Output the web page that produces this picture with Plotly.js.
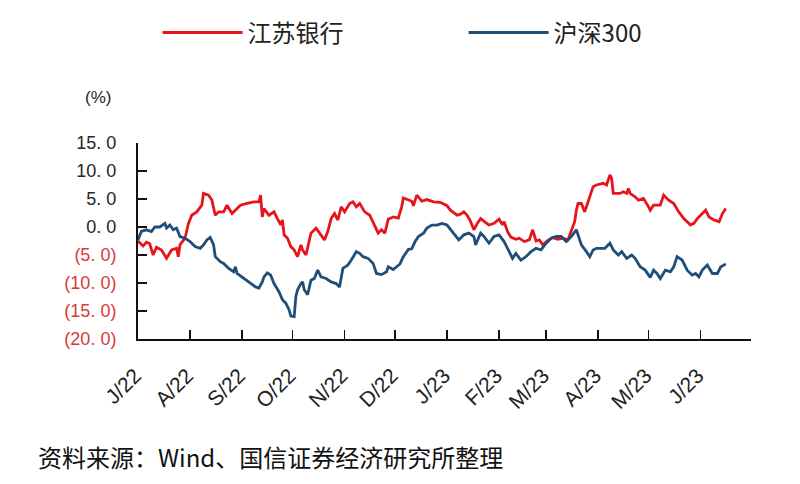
<!DOCTYPE html>
<html>
<head>
<meta charset="utf-8">
<script src="https://cdn.plot.ly/plotly-3.0.1.min.js"></script>
<style>
  html, body { margin: 0; padding: 0; background: #ffffff; }
  #chart { width: 800px; height: 484px; }
</style>
</head>
<body>
<div id="chart"></div>
<script>
// ---- Data (cumulative return, %) ----
const seriesNames = ["江苏银行", "沪深300"];

const bankDates = [
  "2022-07-01","2022-07-04","2022-07-06","2022-07-08","2022-07-10","2022-07-12","2022-07-15","2022-07-18",
  "2022-07-21","2022-07-24","2022-07-25","2022-07-26","2022-07-29","2022-07-31","2022-08-02","2022-08-05",
  "2022-08-08","2022-08-09","2022-08-12","2022-08-14","2022-08-16","2022-08-18","2022-08-21","2022-08-23",
  "2022-08-26","2022-08-29","2022-08-31","2022-09-04","2022-09-08","2022-09-11","2022-09-12","2022-09-13",
  "2022-09-14","2022-09-17","2022-09-20","2022-09-22","2022-09-24","2022-09-25","2022-09-26","2022-09-28",
  "2022-09-30","2022-10-02","2022-10-04","2022-10-06","2022-10-07","2022-10-09","2022-10-12","2022-10-15",
  "2022-10-17","2022-10-20","2022-10-22","2022-10-24","2022-10-26","2022-10-28","2022-10-30","2022-11-01",
  "2022-11-04","2022-11-06","2022-11-08","2022-11-10","2022-11-13","2022-11-16","2022-11-19","2022-11-21",
  "2022-11-23","2022-11-25","2022-11-27","2022-11-30","2022-12-03","2022-12-05","2022-12-06","2022-12-09",
  "2022-12-11","2022-12-12","2022-12-14","2022-12-17","2022-12-20","2022-12-24","2022-12-28","2023-01-01",
  "2023-01-03","2023-01-07","2023-01-09","2023-01-11","2023-01-13","2023-01-15","2023-01-17","2023-01-19",
  "2023-01-21","2023-01-24","2023-01-26","2023-01-29","2023-02-01","2023-02-03","2023-02-04","2023-02-06",
  "2023-02-08","2023-02-11","2023-02-13","2023-02-16","2023-02-19","2023-02-21","2023-02-23","2023-02-25",
  "2023-02-27","2023-03-02","2023-03-05","2023-03-08","2023-03-11","2023-03-14","2023-03-16","2023-03-18",
  "2023-03-19","2023-03-20","2023-03-22","2023-03-24","2023-03-26","2023-03-28","2023-03-29","2023-03-31",
  "2023-04-04","2023-04-06","2023-04-08","2023-04-09","2023-04-10","2023-04-14","2023-04-16","2023-04-18",
  "2023-04-19","2023-04-20","2023-04-23","2023-04-25","2023-04-28","2023-05-01","2023-05-02","2023-05-04",
  "2023-05-08","2023-05-10","2023-05-13","2023-05-16","2023-05-19","2023-05-22","2023-05-26","2023-05-28",
  "2023-05-30","2023-06-01","2023-06-04","2023-06-06","2023-06-09","2023-06-12","2023-06-14","2023-06-16"
];
const bankValues = [
  -2.5,-3.4,-2.7,-3.0,-5.0,-3.6,-4.1,-5.6,
  -4.1,-3.8,-5.3,-3.2,-2.0,0.6,2.1,2.7,
  3.9,6.0,5.7,4.8,2.1,2.7,2.7,3.9,
  2.4,3.3,3.9,4.2,4.5,4.5,5.7,1.8,
  3.3,2.1,2.7,1.5,0.4,1.25,-1.4,-2.0,
  -3.5,-4.1,-5.3,-3.2,-4.1,-5.0,-1.1,-0.2,
  -1.1,-2.3,-0.8,1.5,2.4,1.25,3.6,2.7,
  4.2,4.5,3.6,4.2,2.7,2.1,0.2,-1.1,
  -0.5,-1.1,1.4,1.8,1.6,3.6,5.2,4.9,
  4.6,3.8,5.7,4.6,4.9,4.5,4.4,3.8,
  3.0,2.1,2.3,2.7,2.1,1.0,-0.5,0.65,
  1.5,0.8,0.35,0.65,1.4,0.4,0.95,-0.8,
  -1.8,-2.2,-2.0,-2.6,-2.3,-0.5,-2.5,-2.3,
  -3.2,-2.4,-1.9,-2.2,-2.0,-2.3,-0.8,0.95,
  3.0,4.2,4.2,2.7,4.5,6.3,7.2,7.5,
  7.8,7.5,9.3,8.7,6.0,6.0,6.3,6.0,
  6.9,6.0,5.4,4.8,5.1,3.6,3.0,3.9,
  3.9,5.7,4.8,4.2,2.7,1.5,0.35,0.65,
  1.5,2.1,3.0,1.8,1.25,0.95,2.4,3.3
];

const indexDates = [
  "2022-07-01","2022-07-03","2022-07-06","2022-07-09","2022-07-11","2022-07-14","2022-07-17","2022-07-18",
  "2022-07-20","2022-07-22","2022-07-24","2022-07-26","2022-07-29","2022-08-01","2022-08-04","2022-08-07",
  "2022-08-09","2022-08-11","2022-08-13","2022-08-15","2022-08-16","2022-08-19","2022-08-21","2022-08-24",
  "2022-08-27","2022-08-28","2022-08-29","2022-09-02","2022-09-06","2022-09-09","2022-09-11","2022-09-13",
  "2022-09-14","2022-09-16","2022-09-18","2022-09-20","2022-09-23","2022-09-25","2022-09-27","2022-09-29",
  "2022-09-30","2022-10-02","2022-10-03","2022-10-04","2022-10-06","2022-10-07","2022-10-08","2022-10-10",
  "2022-10-12","2022-10-14","2022-10-16","2022-10-18","2022-10-21","2022-10-24","2022-10-27","2022-10-29",
  "2022-10-31","2022-11-03","2022-11-05","2022-11-08","2022-11-10","2022-11-12","2022-11-15","2022-11-18",
  "2022-11-20","2022-11-23","2022-11-26","2022-11-27","2022-11-30","2022-12-04","2022-12-06","2022-12-09",
  "2022-12-11","2022-12-13","2022-12-15","2022-12-18","2022-12-20","2022-12-23","2022-12-26","2022-12-29",
  "2023-01-01","2023-01-04","2023-01-08","2023-01-11","2023-01-14","2023-01-17","2023-01-18","2023-01-21",
  "2023-01-23","2023-01-26","2023-01-29","2023-02-01","2023-02-04","2023-02-07","2023-02-09","2023-02-11",
  "2023-02-14","2023-02-17","2023-02-20","2023-02-23","2023-02-26","2023-03-01","2023-03-04","2023-03-07",
  "2023-03-10","2023-03-13","2023-03-16","2023-03-19","2023-03-20","2023-03-22","2023-03-25","2023-03-27",
  "2023-03-29","2023-03-31","2023-04-05","2023-04-08","2023-04-10","2023-04-13","2023-04-15","2023-04-18",
  "2023-04-21","2023-04-23","2023-04-26","2023-04-29","2023-05-02","2023-05-04","2023-05-06","2023-05-08",
  "2023-05-11","2023-05-14","2023-05-16","2023-05-18","2023-05-21","2023-05-24","2023-05-27","2023-05-29",
  "2023-05-31","2023-06-02","2023-06-05","2023-06-08","2023-06-11","2023-06-13","2023-06-15","2023-06-16"
];
const indexValues = [
  -2.3,-0.8,-0.5,-0.8,0.0,0.0,0.65,-0.2,
  0.35,-0.5,-0.2,-1.7,-2.0,-2.6,-3.5,-3.8,
  -3.2,-2.3,-1.85,-3.2,-5.3,-6.2,-6.5,-7.4,
  -8.0,-7.1,-8.3,-9.2,-10.1,-10.7,-10.9,-9.8,
  -8.9,-8.2,-8.6,-10.1,-11.6,-13.0,-13.6,-14.8,
  -15.9,-16.0,-12.4,-11.2,-10.1,-9.8,-11.2,-12.1,
  -9.5,-9.2,-7.7,-8.9,-9.2,-9.8,-10.1,-10.7,
  -7.4,-6.8,-5.9,-4.4,-4.7,-5.3,-5.6,-6.5,
  -8.3,-8.5,-8.0,-7.1,-7.6,-6.6,-5.3,-4.0,
  -3.9,-2.6,-1.7,-1.1,-0.2,0.35,0.35,0.65,
  0.35,-0.8,-2.3,-1.4,-1.1,-1.7,-3.2,-1.1,
  -1.7,-2.9,-1.7,-1.4,-2.6,-4.4,-5.6,-4.7,
  -5.9,-5.3,-4.4,-3.8,-4.1,-2.9,-2.0,-1.7,
  -1.7,-2.6,-1.7,-0.5,-1.4,-3.2,-4.4,-5.3,
  -4.1,-3.8,-3.8,-2.9,-4.1,-5.0,-4.4,-5.6,
  -5.0,-5.6,-7.1,-7.7,-9.0,-7.7,-8.3,-9.2,
  -7.7,-8.0,-7.1,-5.3,-5.9,-7.7,-8.6,-8.3,
  -8.9,-7.7,-6.8,-8.3,-8.3,-7.1,-6.8,-6.6
];

// ---- Axis ticks ----
const monthTicks = [
  "2022-07-01","2022-08-01","2022-09-01","2022-10-01","2022-11-01","2022-12-01","2023-01-01",
  "2023-02-01","2023-03-01","2023-04-01","2023-05-01","2023-06-01","2023-07-01"
];
const monthLabels = ["J/22","A/22","S/22","O/22","N/22","D/22","J/23","F/23","M/23","A/23","M/23","J/23",""];
const yTickValues = [-20, -15, -10, -5, 0, 5, 10, 15];
const yTickLabels = ["(20. 0)","(15. 0)","(10. 0)","(5. 0)","0. 0","5. 0","10. 0","15. 0"];

const negColor = "#d8393b";
const yTickText = yTickValues.map((v, i) =>
  v < 0 ? '<span style="color:' + negColor + '">' + yTickLabels[i] + '</span>' : yTickLabels[i]);

const traces = [
  { x: bankDates, y: bankValues, name: seriesNames[0], type: "scatter", mode: "lines",
    line: { color: "#e8141c", width: 2.8 } },
  { x: indexDates, y: indexValues, name: seriesNames[1], type: "scatter", mode: "lines",
    line: { color: "#1f4e79", width: 2.8 } }
];

const layout = {
  width: 800, height: 484,
  margin: { l: 138, r: 49, t: 143, b: 145 },
  paper_bgcolor: "#ffffff", plot_bgcolor: "#ffffff",
  font: { family: "Liberation Sans, Arial, sans-serif", color: "#262626" },
  showlegend: true,
  legend: {
    orientation: "h", xref: "container", yref: "container",
    x: 0.197, y: 0.932, xanchor: "left", yanchor: "middle",
    itemwidth: 80, entrywidth: 211, entrywidthmode: "pixels",
    font: { family: "Noto Sans CJK SC, sans-serif", size: 24, color: "#222222" },
    bgcolor: "rgba(0,0,0,0)"
  },
  xaxis: {
    type: "date", range: ["2022-07-01", "2023-07-01"],
    tickmode: "array", tickvals: monthTicks, ticktext: monthLabels,
    tickangle: -45, ticks: "inside", ticklen: 9, tickwidth: 1.5, tickcolor: "#111",
    ticklabelstandoff: 14, ticklabelshift: -3,
    tickfont: { size: 21, color: "#222" },
    showline: true, linecolor: "#111", linewidth: 2,
    showgrid: false, zeroline: false, fixedrange: true
  },
  yaxis: {
    range: [-20, 15], tickmode: "array", tickvals: yTickValues, ticktext: yTickText,
    ticks: "inside", ticklen: 9, tickwidth: 1.5, tickcolor: "#111",
    ticklabelstandoff: 16,
    tickfont: { size: 18, color: "#262626" },
    showline: true, linecolor: "#111", linewidth: 2,
    showgrid: false, zeroline: false, fixedrange: true
  },
  annotations: [
    { text: "(%)", xref: "paper", yref: "paper", x: -0.065, y: 1.23,
      xanchor: "center", yanchor: "middle", showarrow: false,
      font: { size: 17, color: "#262626" } },
    { text: "资料来源：Wind、国信证券经济研究所整理", xref: "paper", yref: "paper",
      x: -0.166, y: -0.597, xanchor: "left", yanchor: "middle", showarrow: false,
      font: { family: "Noto Sans CJK SC, sans-serif", size: 24, color: "#111" } }
  ]
};

Plotly.newPlot("chart", traces, layout, { displayModeBar: false, staticPlot: true });
</script>
</body>
</html>
